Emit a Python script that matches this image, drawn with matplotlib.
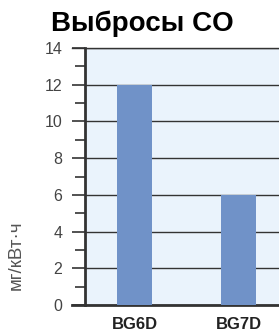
import matplotlib
matplotlib.use("Agg")
import matplotlib.pyplot as plt
from matplotlib.ticker import MultipleLocator

plt.rcParams['font.family'] = ['Liberation Sans', 'DejaVu Sans']

models = ["BG6D", "BG7D"]
co_values = [12, 6]
y_max = 14

fig = plt.figure(figsize=(2.79, 3.35), dpi=100)
ax = fig.add_axes([0.305, 0.0896, 0.695, 0.767])
ax.set_facecolor("#eaf3fc")

x = list(range(len(models)))
ax.bar(x, co_values, width=0.337, color="#7092c8", zorder=3)

ax.set_xlim(-0.476, 1.389)
ax.set_ylim(0, y_max)
ax.yaxis.set_major_locator(MultipleLocator(2))
ax.yaxis.set_minor_locator(MultipleLocator(1))
ax.grid(axis="y", which="major", color="#333333", linewidth=1.0, zorder=1)
ax.tick_params(axis="y", which="major", length=9.5, width=1.2, color="#333333",
               labelsize=11.5, labelcolor="#444444", pad=7)
ax.tick_params(axis="y", which="minor", length=7, width=1.2, color="#333333")
ax.set_xticks(x)
ax.set_xticklabels(models, fontweight="bold", fontsize=12, color="#222222")
ax.tick_params(axis="x", length=0, pad=9)

for side in ["top", "right"]:
    ax.spines[side].set_visible(False)
ax.spines["left"].set_linewidth(2)
ax.spines["left"].set_color("#333333")
ax.spines["bottom"].set_linewidth(2)
ax.spines["bottom"].set_color("#333333")
ax.spines["bottom"].set_bounds(-0.6, 1.389)
ax.spines["bottom"].set_clip_on(False)
# top line extends left like the ticks
ax.axhline(y_max, xmin=-0.07, xmax=1, color="#333333", linewidth=1.0, clip_on=False)

fig.text(0.51, 0.928, "Выбросы CO", ha="center", va="center",
         fontsize=20, fontweight="bold")
fig.text(0.06, 0.239, "мг/кВт·ч", rotation=90, ha="center", va="center",
         fontsize=13.5, color="#555555")

fig.savefig("out.png", dpi=100)
